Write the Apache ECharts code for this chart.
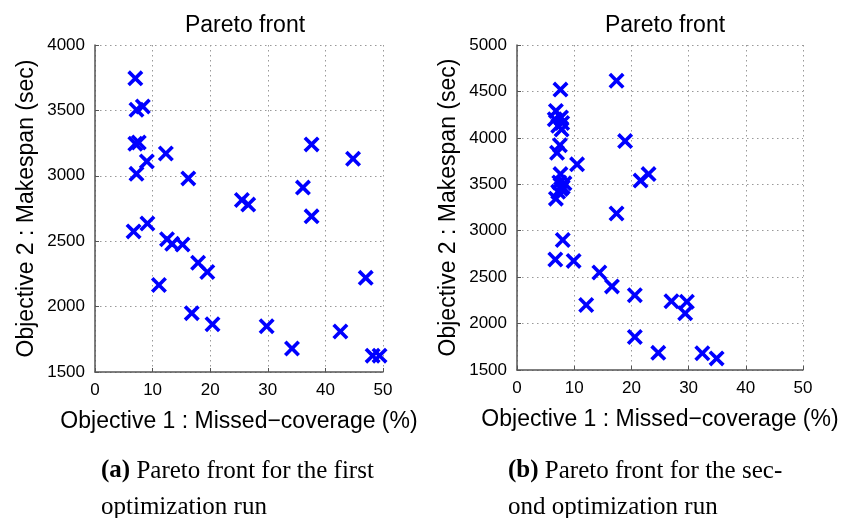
<!DOCTYPE html>
<html>
<head>
<meta charset="utf-8">
<script src="https://cdn.jsdelivr.net/npm/echarts@6/dist/echarts.min.js"></script>
<style>
html,body{margin:0;padding:0;background:#fff;}
#chart{width:858px;height:518px;}
</style>
</head>
<body>
<div id="chart"></div>
<script>
// Run (a): [missed-coverage %, makespan sec]
var runA = [
  [7.0, 3745], [7.2, 3505], [8.3, 3530], [7.0, 3245], [7.6, 3255],
  [9.0, 3110], [12.3, 3170], [7.2, 3015], [16.2, 2980], [25.5, 2815],
  [26.6, 2780], [37.6, 3240], [44.8, 3130], [36.1, 2910], [37.6, 2690],
  [6.7, 2575], [9.1, 2635], [12.5, 2515], [13.4, 2480], [15.2, 2475],
  [17.9, 2335], [19.5, 2265], [11.1, 2165], [16.8, 1950], [20.4, 1865],
  [29.8, 1850], [34.2, 1680], [42.6, 1810], [47.0, 2220], [48.2, 1625],
  [49.4, 1625]
];
// Run (b)
var runB = [
  [7.6, 4520], [17.4, 4615], [6.8, 4290], [6.6, 4200], [7.7, 4220],
  [7.2, 4130], [7.9, 4160], [7.8, 4090], [7.5, 3920], [7.0, 3840],
  [10.5, 3715], [18.9, 3965], [21.6, 3540], [23.0, 3610], [17.4, 3185],
  [7.6, 3610], [7.4, 3520], [8.3, 3510], [7.7, 3450], [8.0, 3470],
  [7.2, 3420], [6.8, 3345], [8.0, 2900], [6.7, 2690], [9.9, 2675],
  [14.4, 2550], [16.6, 2400], [12.1, 2200], [20.6, 2305], [27.0, 2240],
  [29.7, 2235], [29.4, 2110], [20.6, 1855], [24.7, 1685], [32.4, 1680],
  [34.9, 1625]
];
var xTicks = [0, 10, 20, 30, 40, 50];
var yTicksA = [1500, 2000, 2500, 3000, 3500, 4000];
var yTicksB = [1500, 2000, 2500, 3000, 3500, 4000, 4500, 5000];
var plotTitle = 'Pareto front';
var xName = 'Objective 1 : Missed\u2212coverage (%)';
var yName = 'Objective 2 : Makespan (sec)';
var captionA = ['(a)', ' Pareto front for the first', 'optimization run'];
var captionB = ['(b)', ' Pareto front for the sec-', 'ond optimization run'];

var SANS = '"Liberation Sans", Arial, Helvetica, sans-serif';
var SERIF = '"Liberation Serif", "Times New Roman", serif';
var X_SYMBOL = 'path://M0,16 L16,0 L50,34 L84,0 L100,16 L66,50 L100,84 L84,100 L50,66 L16,100 L0,84 L34,50 Z';

function plain(v) { return String(v); }

function xAxis(gi) {
  return {
    gridIndex: gi, type: 'value', min: xTicks[0], max: xTicks[xTicks.length - 1], interval: 10,
    name: xName, nameLocation: 'middle', nameGap: 38,
    nameTextStyle: {fontFamily: SANS, fontSize: 23, color: '#000'},
    axisLine: {show: true, lineStyle: {color: '#555', width: 1.5}},
    axisTick: {show: true, inside: true, length: 4, lineStyle: {color: '#555'}},
    axisLabel: {margin: 10, fontFamily: SANS, fontSize: 17, color: '#000', formatter: plain},
    splitLine: {show: true, lineStyle: {color: '#999', type: [1.5, 3.5], width: 1}}
  };
}
function yAxis(gi, ticks) {
  return {
    gridIndex: gi, type: 'value', min: ticks[0], max: ticks[ticks.length - 1], interval: 500,
    name: yName, nameLocation: 'middle', nameGap: 57,
    nameTextStyle: {fontFamily: SANS, fontSize: 23, color: '#000'},
    axisLine: {show: true, lineStyle: {color: '#555', width: 1.5}},
    axisTick: {show: true, inside: true, length: 4, lineStyle: {color: '#555'}},
    axisLabel: {margin: 10, fontFamily: SANS, fontSize: 17, color: '#000', formatter: plain},
    splitLine: {show: true, lineStyle: {color: '#999', type: [1.5, 3.5], width: 1}}
  };
}
function caption(parts, left) {
  return {
    left: left, top: 453, padding: 0,
    text: '{b|' + parts[0] + '}{n|' + parts[1] + '}\n{n|' + parts[2] + '}',
    textStyle: {
      fontWeight: 'normal', fontFamily: SERIF, fontSize: 25, color: '#000',
      rich: {
        b: {fontFamily: SERIF, fontSize: 25, fontWeight: 'bold', color: '#000', lineHeight: 36},
        n: {fontFamily: SERIF, fontSize: 25, fontWeight: 'normal', color: '#000', lineHeight: 36}
      }
    }
  };
}

var chart = echarts.init(document.getElementById('chart'), null, {renderer: 'canvas'});
chart.setOption({
  backgroundColor: '#fff',
  animation: false,
  title: [
    {text: plotTitle, left: 240, top: 9, textAlign: 'center',
     textStyle: {fontFamily: SANS, fontSize: 23, fontWeight: 'normal', color: '#000'}},
    {text: plotTitle, left: 660, top: 9, textAlign: 'center',
     textStyle: {fontFamily: SANS, fontSize: 23, fontWeight: 'normal', color: '#000'}},
    caption(captionA, 101),
    caption(captionB, 508)
  ],
  grid: [
    {left: 95, top: 45, width: 288, height: 327, containLabel: false},
    {left: 517, top: 45, width: 286, height: 325, containLabel: false}
  ],
  xAxis: [xAxis(0), xAxis(1)],
  yAxis: [yAxis(0, yTicksA), yAxis(1, yTicksB)],
  series: [
    {type: 'scatter', xAxisIndex: 0, yAxisIndex: 0, data: runA,
     symbol: X_SYMBOL, symbolSize: 16, itemStyle: {color: '#0000ff', opacity: 1}},
    {type: 'scatter', xAxisIndex: 1, yAxisIndex: 1, data: runB,
     symbol: X_SYMBOL, symbolSize: 16, itemStyle: {color: '#0000ff', opacity: 1}}
  ]
});
</script>
</body>
</html>
